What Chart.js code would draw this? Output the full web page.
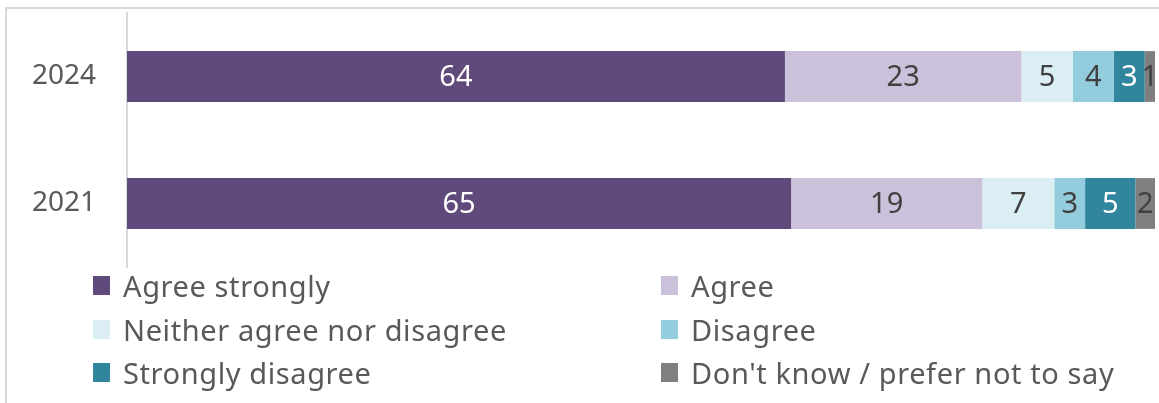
<!DOCTYPE html>
<html>
<head>
<meta charset="utf-8">
<script src="https://cdn.jsdelivr.net/npm/chart.js@4/dist/chart.umd.min.js"></script>
<style>
  body { margin: 0; background: #fff; overflow: hidden; }
  .frame {
    position: absolute; left: 5px; top: 7px; width: 1200px; height: 450px;
    border-left: 2px solid #d9d9d9; border-top: 2px solid #d9d9d9;
  }
  .wrap { position: absolute; left: 0; top: 0; width: 1159px; height: 403px; }
  .legend {
    position: absolute; left: 93px; top: 264px; width: 1060px;
    display: grid; grid-template-columns: 568px 490px; grid-auto-rows: 43.5px;
    font-family: "Noto Sans", sans-serif; font-size: 29px; letter-spacing: 0.6px; color: #595959;
  }
  .legend div { display: flex; align-items: center; white-space: nowrap; }
  .legend span.box { width: 17px; height: 19px; margin-right: 13px; display: inline-block; }
</style>
</head>
<body>
<div class="frame"></div>
<div class="wrap"><canvas id="chart" width="1159" height="403"></canvas></div>
<div class="legend" id="legend"></div>
<script>
const years = ["2024", "2021"];
const seriesNames = ["Agree strongly", "Agree", "Neither agree nor disagree", "Disagree", "Strongly disagree", "Don't know / prefer not to say"];

// percentages per year (2024, 2021)
const agreeStrongly = [64, 64.6];
const agree = [23, 18.6];
const neither = [5, 7];
const disagree = [4, 3];
const stronglyDisagree = [3, 4.9];
const dontKnow = [1, 1.9];

const colors = ["#604a7b", "#ccc1da", "#dbeef4", "#93cddd", "#31859c", "#7f7f7f"];
const labelColors = ["#ffffff", "#404040", "#404040", "#404040", "#ffffff", "#404040"];

const allValues = [agreeStrongly, agree, neither, disagree, stronglyDisagree, dontKnow];

const barLabels = {
  id: "barLabels",
  afterDatasetsDraw(chart) {
    const ctx = chart.ctx;
    ctx.save();
    ctx.font = "29px 'Noto Sans'";
    ctx.textAlign = "center";
    ctx.textBaseline = "middle";
    chart.data.datasets.forEach(function (ds, i) {
      const meta = chart.getDatasetMeta(i);
      meta.data.forEach(function (bar, j) {
        ctx.fillStyle = labelColors[i];
        ctx.fillText(Math.round(ds.data[j]), (bar.x + bar.base) / 2, bar.y + 1);
      });
    });
    ctx.restore();
  }
};

const chart = new Chart("chart", {
  type: "bar",
  data: {
    labels: years,
    datasets: seriesNames.map(function (name, i) {
      return {
        label: name,
        data: allValues[i],
        backgroundColor: colors[i],
        categoryPercentage: 0.4,
        barPercentage: 1.0
      };
    })
  },
  options: {
    indexAxis: "y",
    responsive: false,
    animation: false,
    layout: { padding: { top: 13, bottom: 136, right: 4, left: 0 } },
    plugins: { legend: { display: false }, tooltip: { enabled: false } },
    scales: {
      x: { stacked: true, min: 0, max: 100, display: false },
      y: {
        stacked: true,
        grid: { display: false, drawTicks: false },
        border: { display: true, color: "#d9d9d9", width: 2 },
        ticks: { color: "#595959", padding: 31, font: { family: "Noto Sans", size: 28 } },
        afterFit: function (scale) {
          scale.width = 127;
          scale.paddingTop = 0;
          scale.paddingBottom = 0;
        }
      }
    }
  },
  plugins: [barLabels]
});

// legend in two columns, built from the chart's own legend items
const legendEl = document.getElementById("legend");
chart.options.plugins.legend.labels.generateLabels(chart).forEach(function (item) {
  const row = document.createElement("div");
  const box = document.createElement("span");
  box.className = "box";
  box.style.background = item.fillStyle;
  row.appendChild(box);
  row.appendChild(document.createTextNode(item.text));
  legendEl.appendChild(row);
});
</script>
</body>
</html>
